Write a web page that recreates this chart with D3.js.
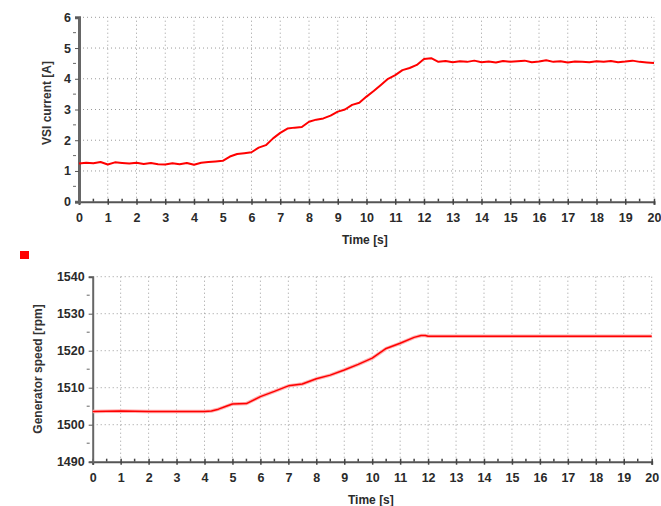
<!DOCTYPE html>
<html>
<head>
<meta charset="utf-8">
<script src="https://cdn.jsdelivr.net/npm/d3@7"></script>
<style>
    body { margin: 0; background: #fff; }
    svg text { font-family: "Liberation Sans", Arial, sans-serif; font-weight: bold; fill: #2a2a2a; }
    .grid line { stroke: #9a9a9a; stroke-dasharray: 1,3; }
</style>
</head>
<body>
<svg id="chart" width="661" height="506"></svg>
<script>
// VSI current [A], sampled every 0.25 s
const currentTime = d3.range(0, 20.001, 0.25);
const currentValues = [
    1.24, 1.27, 1.25, 1.29, 1.21, 1.28, 1.26, 1.24, 1.27, 1.23, 1.26, 1.22, 1.21, 1.25, 1.22, 1.26,
    1.20, 1.27, 1.29, 1.31, 1.33, 1.47, 1.55, 1.58, 1.61, 1.76, 1.84, 2.06, 2.24, 2.38, 2.41, 2.43,
    2.60, 2.67, 2.71, 2.80, 2.93, 3.00, 3.15, 3.22, 3.42, 3.60, 3.80, 4.00, 4.12, 4.28, 4.35, 4.45,
    4.64, 4.67, 4.55, 4.58, 4.54, 4.57, 4.55, 4.59, 4.54, 4.56, 4.53, 4.58, 4.55, 4.57, 4.59, 4.54,
    4.56, 4.60, 4.55, 4.57, 4.53, 4.56, 4.55, 4.54, 4.57, 4.55, 4.58, 4.54, 4.56, 4.59, 4.55, 4.53,
    4.51
];

// Generator speed [rpm]
const speedTime = [0, 1, 2, 3, 4, 4.25, 4.5, 4.75, 5, 5.5, 6, 6.5, 7, 7.5, 8, 8.5, 9, 9.5, 10, 10.5, 11, 11.5, 11.75, 11.9, 12, 20];
const speedValues = [1503.6, 1503.7, 1503.6, 1503.6, 1503.6, 1503.7, 1504.2, 1504.9, 1505.6, 1505.7, 1507.6, 1509.0, 1510.5, 1511.0, 1512.4, 1513.4, 1514.8, 1516.3, 1518.0, 1520.6, 1522.0, 1523.6, 1524.1, 1524.1, 1523.9, 1523.9];

const timeTicks = d3.range(0, 21, 1);
const currentTicks = [0, 1, 2, 3, 4, 5, 6];
const speedTicks = [1490, 1500, 1510, 1520, 1530, 1540];

const svg = d3.select("#chart");

function drawPanel(cfg) {
    const x = d3.scaleLinear().domain([0, 20]).range([cfg.left, cfg.right]);
    const y = d3.scaleLinear().domain(cfg.yDomain).range([cfg.bottom, cfg.top]);
    const g = svg.append("g");

    // dotted grid
    const grid = g.append("g").attr("class", "grid");
    grid.selectAll(".v").data(timeTicks.slice(1)).enter().append("line")
        .attr("x1", d => x(d)).attr("x2", d => x(d))
        .attr("y1", cfg.bottom).attr("y2", cfg.top);
    grid.selectAll(".h").data(cfg.yTicks.slice(1)).enter().append("line")
        .attr("x1", cfg.left).attr("x2", cfg.right)
        .attr("y1", d => y(d)).attr("y2", d => y(d));

    // minor ticks
    const minorX = d3.range(0.5, 20, 1);
    g.selectAll(".mx").data(minorX).enter().append("line")
        .attr("x1", d => x(d)).attr("x2", d => x(d))
        .attr("y1", cfg.bottom - 3).attr("y2", cfg.bottom)
        .attr("stroke", "#444").attr("stroke-width", 1.5);
    const step = cfg.yTicks[1] - cfg.yTicks[0];
    const minorY = cfg.yTicks.slice(1).map(d => d - step / 2);
    g.selectAll(".my").data(minorY).enter().append("line")
        .attr("x1", cfg.left - 6).attr("x2", cfg.left - 3)
        .attr("y1", d => y(d)).attr("y2", d => y(d))
        .attr("stroke", "#666").attr("stroke-width", 1);

    // axes
    const xAxis = g.append("g").attr("transform", `translate(0,${cfg.bottom})`)
        .call(d3.axisBottom(x).tickValues(timeTicks).tickSize(3).tickPadding(8).tickFormat(d3.format("d")));
    xAxis.select(".domain").attr("stroke", "#555").attr("stroke-width", 2);
    xAxis.selectAll(".tick line").attr("stroke", "#444").attr("stroke-width", 1.5).attr("y1", -3);
    xAxis.selectAll("text").attr("font-size", 12.5);

    const yAxis = g.append("g").attr("transform", `translate(${cfg.left},0)`)
        .call(d3.axisLeft(y).tickValues(cfg.yTicks).tickSize(4).tickPadding(4).tickFormat(d3.format("d")));
    yAxis.select(".domain").attr("stroke", "#666").attr("stroke-width", cfg.yAxisWidth);
    yAxis.selectAll(".tick line").attr("stroke", "#555");
    yAxis.selectAll("text").attr("font-size", 12.5);

    g.append("text").attr("x", cfg.xLabelX).attr("y", cfg.xLabelY)
        .attr("font-size", 12).text("Time [s]");
    g.append("text")
        .attr("transform", `translate(${cfg.yLabelX},${cfg.yLabelY}) rotate(-90)`)
        .attr("text-anchor", "middle").attr("font-size", 12)
        .style("fill", "#333")
        .text(cfg.yLabel);

    const line = d3.line().x((d, i) => x(cfg.times[i])).y(d => y(d));
    if (cfg.halo) {
        g.append("path").datum(cfg.values).attr("d", line)
            .attr("fill", "none").attr("stroke", "#ffb0b0").attr("stroke-width", 3.5);
    }
    g.append("path").datum(cfg.values).attr("d", line)
        .attr("fill", "none").attr("stroke", "#ff0000")
        .attr("stroke-width", cfg.lineWidth).attr("stroke-linejoin", "round");
}

drawPanel({
    left: 79, right: 654, top: 17.3, bottom: 201.7,
    yDomain: [0, 6], yTicks: currentTicks,
    times: currentTime, values: currentValues,
    yLabel: "VSI current [A]", yLabelX: 51, yLabelY: 103,
    xLabelX: 342, xLabelY: 244, yAxisWidth: 3, lineWidth: 2
});

drawPanel({
    left: 92.7, right: 651.7, top: 276.7, bottom: 461.7,
    yDomain: [1490, 1540], yTicks: speedTicks,
    times: speedTime, values: speedValues,
    yLabel: "Generator speed [rpm]", yLabelX: 42, yLabelY: 369,
    xLabelX: 348, xLabelY: 504, yAxisWidth: 2, lineWidth: 1.5, halo: true
});

// legend marker
svg.append("rect").attr("x", 20).attr("y", 251).attr("width", 9).attr("height", 8).attr("fill", "#ff0000");
</script>
</body>
</html>
